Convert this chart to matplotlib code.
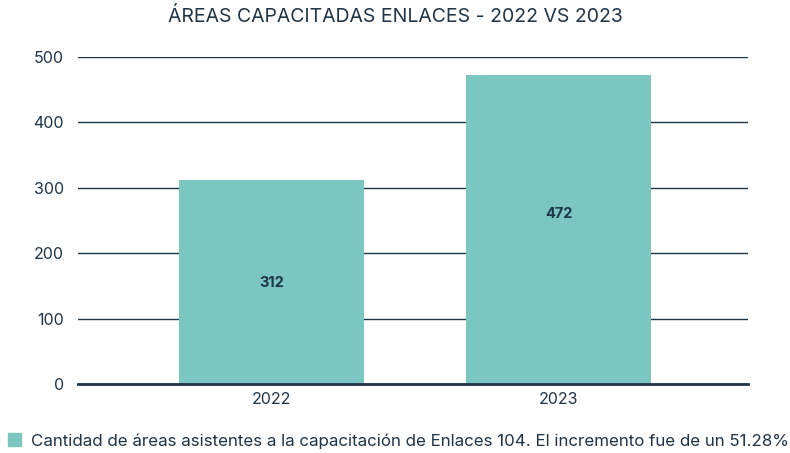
import matplotlib
matplotlib.use("Agg")
import matplotlib.pyplot as plt
from matplotlib.patches import Patch

years = ["2022", "2023"]
values = [312, 472]
label_frac = [0.495, 0.55]
yticks = [0, 100, 200, 300, 400, 500]
title = "ÁREAS CAPACITADAS ENLACES - 2022 VS 2023"
legend_label = "Cantidad de áreas asistentes a la capacitación de Enlaces 104. El incremento fue de un 51.28%"

plt.rcParams['font.family'] = ['Inter', 'DejaVu Sans']
txt = "#1e3447"
bar_color = "#7cc6c2"

fig = plt.figure(figsize=(7.9, 4.53), dpi=100)
ax = fig.add_axes([78/790, 1-384/453, 670/790, (384-57)/453])

x = list(range(len(years)))
bars = ax.bar(x, values, width=0.645, color=bar_color, zorder=3)
for xi, v, f in zip(x, values, label_frac):
    ax.text(xi, v*f, str(v), ha="center", va="center", fontsize=10.5, fontweight="bold", color=txt, zorder=4)

ax.set_xlim(-0.674, 1.66)
ax.set_ylim(0, 500)
ax.set_yticks(yticks)
ax.set_yticklabels([str(t) for t in yticks])
ax.set_xticks(x)
ax.set_xticklabels(years)
ax.tick_params(axis="both", length=0, labelsize=11.5, colors=txt)
ax.tick_params(axis="y", pad=10)
ax.tick_params(axis="x", pad=6)
ax.grid(axis="y", color=txt, linewidth=1, zorder=1)
ax.set_axisbelow(True)
for s in ["top", "right", "left"]:
    ax.spines[s].set_visible(False)
ax.spines["bottom"].set_color(txt)
ax.spines["bottom"].set_linewidth(2)
ax.spines["bottom"].set_zorder(5)

fig.text(0.5, 1-17/453, title, ha="center", va="center", fontsize=14, color=txt)

fig.legend(handles=[Patch(color=bar_color, label=legend_label)], loc="center left",
           bbox_to_anchor=(6/790, 1-441/453), frameon=False, fontsize=12.2,
           labelcolor=txt, handlelength=0.8, handleheight=0.8, handletextpad=0.6,
           borderaxespad=0, borderpad=0.1)

fig.savefig("out.png", dpi=100)
